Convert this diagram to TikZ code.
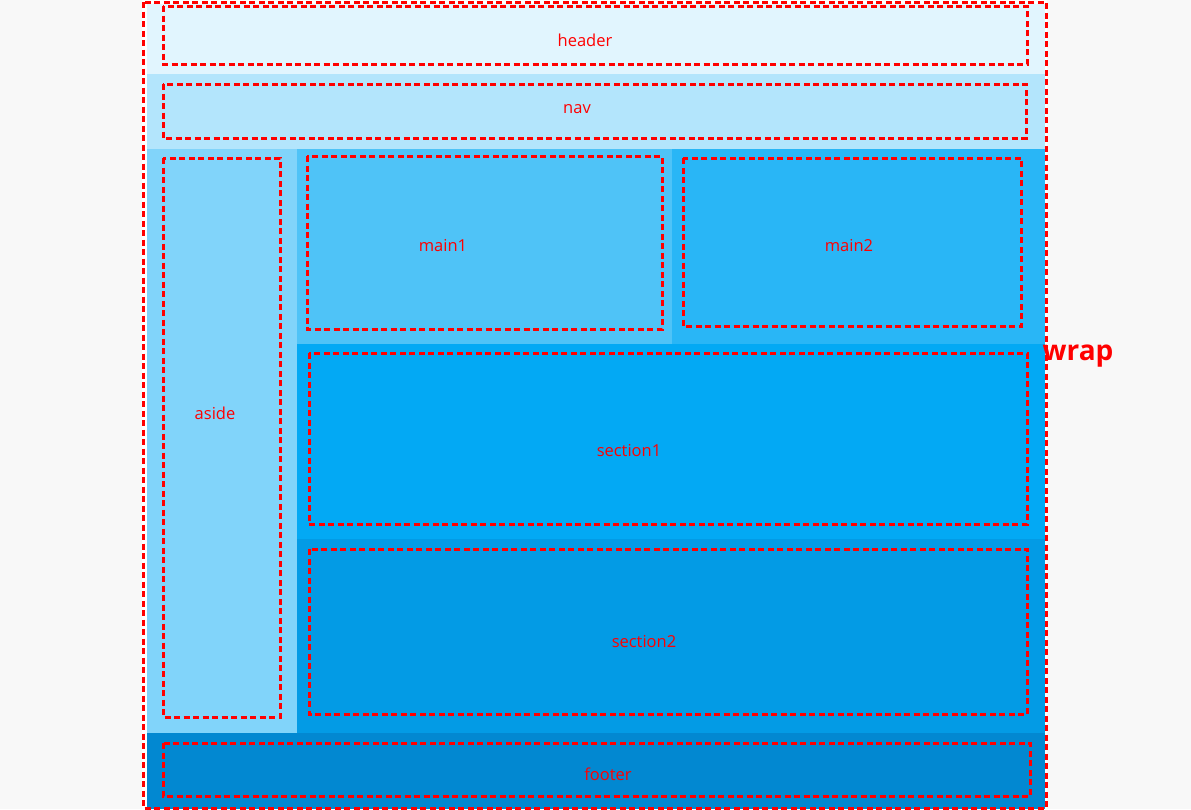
\documentclass[tikz,border=0pt]{standalone}
\usepackage{fontspec}
\setmainfont{Open Sans}
\usepackage{xcolor}
\definecolor{pagebg}{RGB}{248,248,248}
\definecolor{headerbg}{RGB}{225,245,254}
\definecolor{navbg}{RGB}{179,229,252}
\definecolor{asidebg}{RGB}{129,212,250}
\definecolor{mainonebg}{RGB}{79,195,247}
\definecolor{maintwobg}{RGB}{41,182,246}
\definecolor{sectiononebg}{RGB}{3,169,244}
\definecolor{sectiontwobg}{RGB}{3,155,229}
\definecolor{footerbg}{RGB}{2,136,209}
\definecolor{outline}{RGB}{255,0,0}

\begin{document}
\begin{tikzpicture}[x=1pt, y=-1pt,
    dashbox/.style={draw=outline, line width=3pt, dash pattern=on 6pt off 3.5pt},
    label/.style={text=outline, font=\fontsize{16.5}{19}\selectfont, inner sep=0pt}]
  % Page
  \useasboundingbox (0,0) rectangle (1191,809);
  \fill[pagebg] (0,0) rectangle (1191,809);

  % Wrap background
  \fill[white] (142,0) rectangle (1047,809);

  % Block backgrounds
  \fill[headerbg] (147,4) rectangle (1045,74);
  \fill[navbg] (147,74) rectangle (1045,149);
  \fill[asidebg] (147,149) rectangle (297,733);
  \fill[mainonebg] (297,149) rectangle (672,344);
  \fill[maintwobg] (672,149) rectangle (1045,344);
  \fill[sectiononebg] (297,344) rectangle (1045,539);
  \fill[sectiontwobg] (297,539) rectangle (1045,733);
  \fill[footerbg] (147,733) rectangle (1045,809);

  % Dashed outlines
  \draw[dashbox] (163,6) rectangle (1027,64);
  \draw[dashbox] (163,84) rectangle (1026,138);
  \draw[dashbox] (163,158) rectangle (280,717);
  \draw[dashbox] (307,156) rectangle (662,329);
  \draw[dashbox] (683,158) rectangle (1021,326);
  \draw[dashbox] (309,353) rectangle (1027,524);
  \draw[dashbox] (309,549) rectangle (1027,714);
  \draw[dashbox] (163,743) rectangle (1030,796);
  \draw[dashbox] (143,2) rectangle (1046,808);

  % Labels
  \node[label] (header) at (585,40) {header};
  \node[label] (nav) at (577,109) {nav};
  \node[label] (aside) at (215,413) {aside};
  \node[label] (main1) at (443,246) {main1};
  \node[label] (main2) at (849,246) {main2};
  \node[label] (section1) at (629,451) {section1};
  \node[label] (section2) at (644,642) {section2};
  \node[label] (footer) at (608,774) {footer};
  \node[text=outline, font=\fontsize{28}{32}\selectfont\bfseries, inner sep=0pt] (wrap) at (1078,356) {wrap};

\end{tikzpicture}
\end{document}
